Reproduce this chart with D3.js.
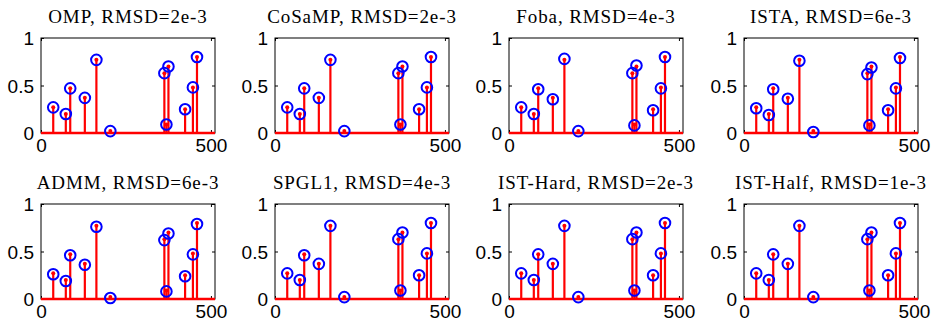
<!DOCTYPE html>
<html>
<head>
<meta charset="utf-8">
<script src="https://cdn.jsdelivr.net/npm/d3@7"></script>
<style>
  body { margin: 0; background: #fff; }
  .title { font-family: 'Liberation Serif', 'Times New Roman', serif; font-size: 19px; letter-spacing: 0.9px; }
  .tick text { font-family: 'Liberation Sans', Arial, sans-serif; font-size: 19px; fill: #000; }
</style>
</head>
<body>
<div id="chart"></div>
<script>
// methods and their error
var methods = ['OMP', 'CoSaMP', 'Foba', 'ISTA', 'ADMM', 'SPGL1', 'IST-Hard', 'IST-Half'];
var rmsd = ['2e-3', '2e-3', '4e-3', '6e-3', '6e-3', '4e-3', '2e-3', '1e-3'];

// nonzero positions of the sparse signal (length 512)
var stemIndex = [36, 73, 86, 129, 163, 204, 363, 369, 375, 424, 447, 459];
var truth = [0.27, 0.2, 0.47, 0.37, 0.77, 0.02, 0.63, 0.09, 0.7, 0.25, 0.48, 0.8];

// recovered values, one list per method
var recOMP = [0.27, 0.2, 0.47, 0.37, 0.77, 0.02, 0.63, 0.09, 0.7, 0.25, 0.48, 0.8];
var recCoSaMP = [0.27, 0.2, 0.47, 0.37, 0.77, 0.02, 0.63, 0.09, 0.7, 0.25, 0.48, 0.8];
var recFoba = [0.27, 0.2, 0.46, 0.355, 0.78, 0.02, 0.63, 0.08, 0.71, 0.24, 0.47, 0.8];
var recISTA = [0.26, 0.19, 0.46, 0.36, 0.76, 0.01, 0.62, 0.08, 0.69, 0.24, 0.47, 0.79];
var recADMM = [0.26, 0.19, 0.46, 0.36, 0.76, 0.01, 0.62, 0.08, 0.69, 0.24, 0.47, 0.79];
var recSPGL1 = [0.27, 0.2, 0.46, 0.37, 0.77, 0.02, 0.63, 0.09, 0.7, 0.25, 0.48, 0.8];
var recISTHard = [0.27, 0.2, 0.47, 0.37, 0.77, 0.02, 0.63, 0.09, 0.7, 0.25, 0.48, 0.8];
var recISTHalf = [0.27, 0.2, 0.47, 0.37, 0.77, 0.02, 0.63, 0.09, 0.7, 0.25, 0.48, 0.8];
var recovered = [recOMP, recCoSaMP, recFoba, recISTA, recADMM, recSPGL1, recISTHard, recISTHalf];

var xTicks = [0, 500];
var yTicks = [0, 0.5, 1];
var signalLength = 512;

var W = 931, H = 329;
var colLeft = [41, 275, 509, 744];
var rowTop = [38, 204];
var pw = 174, ph = 95;

var svg = d3.select('#chart').append('svg').attr('width', W).attr('height', H);

var x = d3.scaleLinear().domain([0, signalLength]).range([0, pw]);
var y = d3.scaleLinear().domain([0, 1]).range([ph, 0]);

methods.forEach(function (name, k) {
  var g = svg.append('g')
    .attr('transform', 'translate(' + colLeft[k % 4] + ',' + rowTop[Math.floor(k / 4)] + ')');

  // box
  g.append('rect')
    .attr('width', pw).attr('height', ph)
    .attr('fill', 'none').attr('stroke', '#000').attr('stroke-width', 1);

  // axes with inward ticks (matlab style)
  var ax = g.append('g').attr('transform', 'translate(0,' + ph + ')')
    .call(d3.axisBottom(x).tickValues(xTicks).tickSize(-3).tickPadding(6));
  var ay = g.append('g')
    .call(d3.axisLeft(y).tickValues(yTicks).tickFormat(d3.format('')).tickSize(-3).tickPadding(7));
  g.append('g').attr('transform', 'translate(' + pw + ',0)')
    .call(d3.axisRight(y).tickValues(yTicks).tickSize(-3).tickFormat(''));
  g.append('g')
    .call(d3.axisTop(x).tickValues(xTicks).tickSize(-3).tickFormat(''));
  g.selectAll('.domain').remove();
  g.selectAll('.tick line').attr('stroke', '#000');
  ay.selectAll('.tick text').attr('dy', '0.35em');
  ax.selectAll('.tick text').attr('dy', '0.71em');

  // zero baseline (all the zero entries of the stem plot)
  g.append('line')
    .attr('x1', x(0)).attr('x2', x(signalLength))
    .attr('y1', y(0)).attr('y2', y(0))
    .attr('stroke', 'red').attr('stroke-width', 2.5);

  var pts = stemIndex.map(function (d, i) {
    return { i: d, t: truth[i], r: recovered[k][i] };
  });

  g.selectAll('.stem').data(pts).enter().append('line')
    .attr('class', 'stem')
    .attr('x1', function (d) { return x(d.i); })
    .attr('x2', function (d) { return x(d.i); })
    .attr('y1', y(0))
    .attr('y2', function (d) { return y(d.t); })
    .attr('stroke', 'red').attr('stroke-width', 2.2);

  g.selectAll('.dot').data(pts).enter().append('circle')
    .attr('class', 'dot')
    .attr('cx', function (d) { return x(d.i); })
    .attr('cy', function (d) { return y(d.t); })
    .attr('r', 2).attr('fill', 'red');

  g.selectAll('.rec').data(pts).enter().append('circle')
    .attr('class', 'rec')
    .attr('cx', function (d) { return x(d.i); })
    .attr('cy', function (d) { return y(d.r); })
    .attr('r', 5.3).attr('fill', 'none')
    .attr('stroke', 'blue').attr('stroke-width', 2);

  g.append('text')
    .attr('class', 'title')
    .attr('x', pw / 2).attr('y', -15)
    .attr('text-anchor', 'middle')
    .text(name + ', RMSD=' + rmsd[k]);
});
</script>
</body>
</html>
